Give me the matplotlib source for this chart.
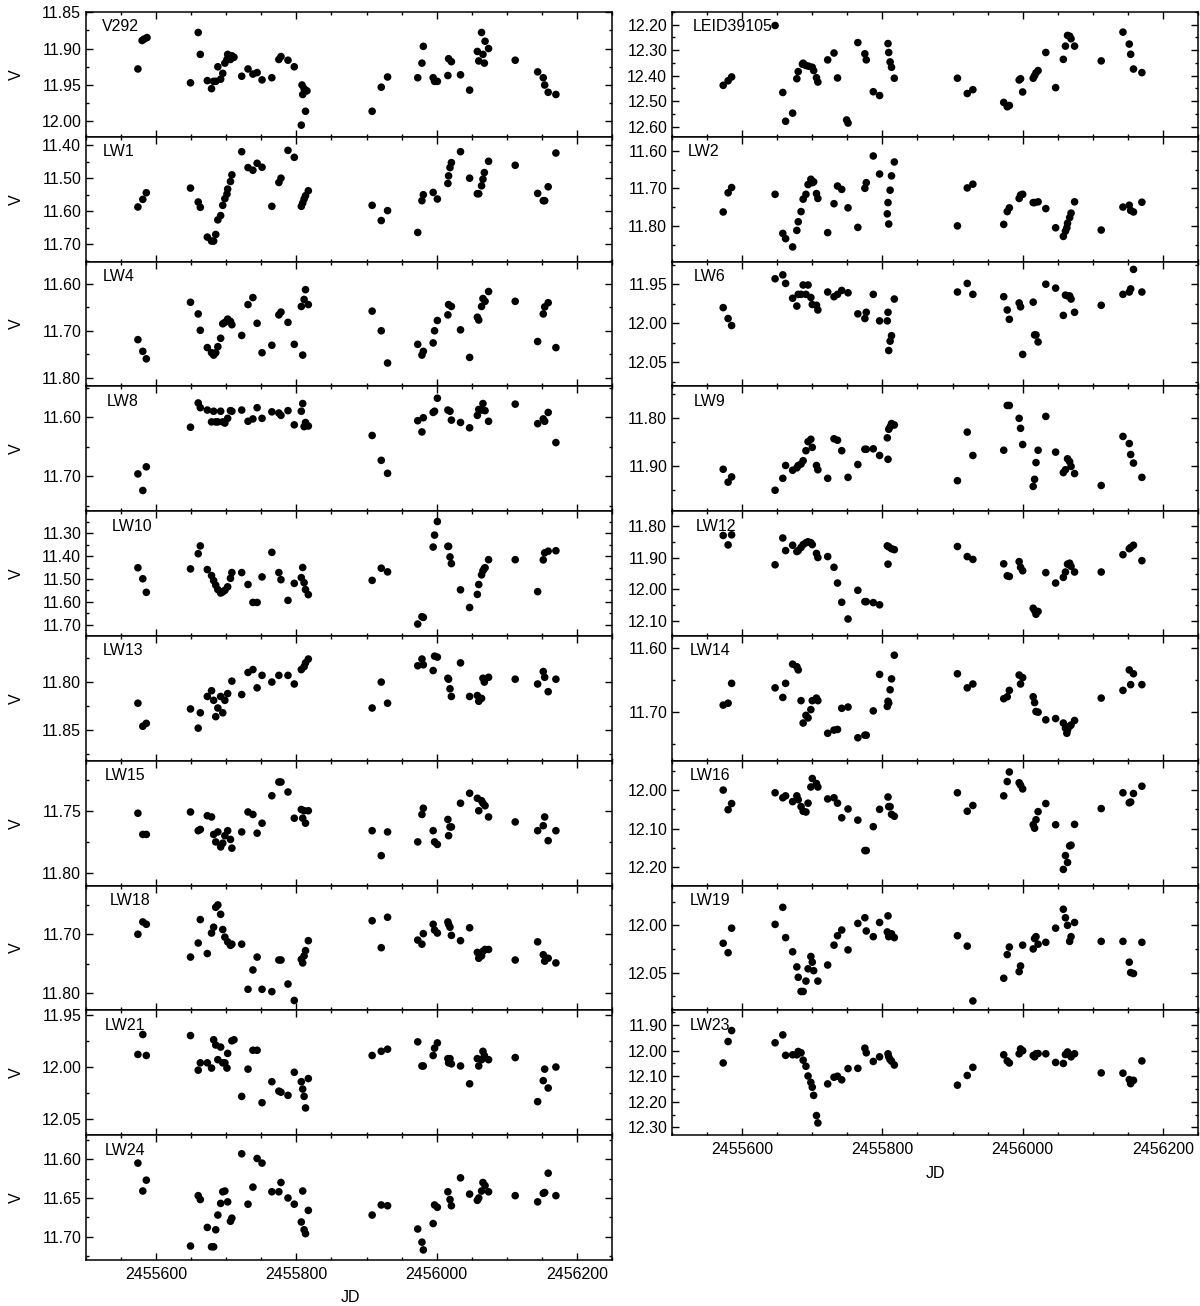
import numpy as np
import matplotlib
matplotlib.use("Agg")
import matplotlib.pyplot as plt
from matplotlib.ticker import MultipleLocator, AutoMinorLocator, FormatStrFormatter

plt.rcParams['font.family'] = ['Liberation Sans', 'DejaVu Sans']

# (JD, V)
v292 = [(2455574, 11.928), (2455580, 11.889), (2455583, 11.887), (2455587, 11.885),
        (2455649, 11.947), (2455660, 11.878), (2455663, 11.908), (2455673, 11.944),
        (2455679, 11.955), (2455682, 11.945), (2455685, 11.945), (2455688, 11.925),
        (2455692, 11.942), (2455695, 11.934), (2455698, 11.920), (2455701, 11.915),
        (2455702, 11.908), (2455706, 11.915), (2455708, 11.910), (2455711, 11.912),
        (2455722, 11.938), (2455731, 11.928), (2455738, 11.935), (2455744, 11.933),
        (2455751, 11.943), (2455765, 11.940), (2455775, 11.915), (2455778, 11.911),
        (2455788, 11.916), (2455797, 11.925), (2455807, 12.005), (2455808, 11.950),
        (2455809, 11.963), (2455811, 11.955), (2455813, 11.986), (2455815, 11.958),
        (2455908, 11.986), (2455921, 11.953), (2455930, 11.939), (2455973, 11.940),
        (2455979, 11.920), (2455981, 11.897), (2455995, 11.940), (2455997, 11.945),
        (2456001, 11.945), (2456016, 11.937), (2456017, 11.914), (2456021, 11.918),
        (2456034, 11.936), (2456047, 11.957), (2456058, 11.904), (2456060, 11.917),
        (2456064, 11.878), (2456066, 11.908), (2456068, 11.920), (2456069, 11.890),
        (2456074, 11.900), (2456112, 11.916), (2456144, 11.932), (2456152, 11.940),
        (2456154, 11.950), (2456159, 11.960), (2456170, 11.963)]

lw1 = [(2455574, 11.587), (2455581, 11.564), (2455586, 11.544), (2455649, 11.530),
       (2455660, 11.572), (2455663, 11.588), (2455673, 11.678), (2455679, 11.690),
       (2455682, 11.690), (2455685, 11.670), (2455688, 11.626), (2455692, 11.613),
       (2455695, 11.582), (2455698, 11.562), (2455701, 11.548), (2455702, 11.533),
       (2455706, 11.510), (2455708, 11.490), (2455722, 11.420), (2455731, 11.468),
       (2455738, 11.476), (2455744, 11.455), (2455751, 11.467), (2455765, 11.585),
       (2455775, 11.513), (2455778, 11.500), (2455788, 11.416), (2455797, 11.437),
       (2455807, 11.585), (2455809, 11.575), (2455811, 11.563), (2455813, 11.553),
       (2455817, 11.538), (2455908, 11.582), (2455921, 11.628), (2455930, 11.598),
       (2455973, 11.664), (2455979, 11.568), (2455981, 11.550), (2455995, 11.543),
       (2456001, 11.563), (2456016, 11.516), (2456017, 11.493), (2456019, 11.468),
       (2456021, 11.453), (2456034, 11.420), (2456047, 11.500), (2456058, 11.547),
       (2456060, 11.547), (2456064, 11.523), (2456066, 11.503), (2456068, 11.483),
       (2456074, 11.449), (2456112, 11.461), (2456144, 11.546), (2456152, 11.568),
       (2456154, 11.568), (2456159, 11.526), (2456170, 11.424)]

lw4 = [(2455574, 11.719), (2455581, 11.744), (2455586, 11.760), (2455649, 11.639),
       (2455660, 11.664), (2455663, 11.699), (2455673, 11.736), (2455679, 11.747),
       (2455682, 11.752), (2455685, 11.747), (2455688, 11.734), (2455692, 11.716),
       (2455695, 11.685), (2455698, 11.682), (2455702, 11.675), (2455706, 11.680),
       (2455708, 11.687), (2455722, 11.710), (2455731, 11.644), (2455738, 11.629),
       (2455744, 11.684), (2455751, 11.747), (2455765, 11.731), (2455775, 11.666),
       (2455778, 11.660), (2455788, 11.682), (2455797, 11.729), (2455807, 11.648),
       (2455809, 11.752), (2455811, 11.633), (2455813, 11.612), (2455817, 11.644),
       (2455908, 11.658), (2455921, 11.700), (2455930, 11.769), (2455973, 11.729),
       (2455979, 11.752), (2455981, 11.744), (2455995, 11.726), (2455997, 11.700),
       (2456001, 11.678), (2456016, 11.666), (2456017, 11.644), (2456021, 11.648),
       (2456034, 11.698), (2456047, 11.757), (2456058, 11.671), (2456060, 11.677),
       (2456064, 11.648), (2456066, 11.631), (2456069, 11.637), (2456074, 11.616),
       (2456112, 11.637), (2456144, 11.723), (2456152, 11.664), (2456154, 11.649),
       (2456159, 11.640), (2456170, 11.736)]

lw8 = [(2455574, 11.696), (2455581, 11.724), (2455586, 11.684), (2455649, 11.617),
       (2455660, 11.576), (2455663, 11.584), (2455673, 11.588), (2455679, 11.608),
       (2455682, 11.590), (2455685, 11.608), (2455688, 11.608), (2455692, 11.590),
       (2455695, 11.608), (2455698, 11.610), (2455702, 11.602), (2455706, 11.589),
       (2455708, 11.590), (2455722, 11.588), (2455731, 11.607), (2455738, 11.603),
       (2455744, 11.584), (2455751, 11.602), (2455765, 11.591), (2455775, 11.593),
       (2455778, 11.597), (2455788, 11.589), (2455797, 11.613), (2455807, 11.590),
       (2455809, 11.577), (2455811, 11.616), (2455813, 11.609), (2455817, 11.615),
       (2455908, 11.631), (2455921, 11.673), (2455930, 11.695), (2455973, 11.606),
       (2455979, 11.625), (2455981, 11.601), (2455995, 11.592), (2455997, 11.590),
       (2456001, 11.568), (2456016, 11.588), (2456019, 11.590), (2456021, 11.605),
       (2456034, 11.609), (2456047, 11.618), (2456058, 11.597), (2456060, 11.587),
       (2456064, 11.588), (2456066, 11.577), (2456069, 11.589), (2456074, 11.607),
       (2456112, 11.578), (2456144, 11.611), (2456152, 11.603), (2456154, 11.607),
       (2456159, 11.592), (2456170, 11.643)]

lw10 = [(2455574, 11.451), (2455581, 11.499), (2455586, 11.558), (2455649, 11.456),
        (2455660, 11.390), (2455663, 11.356), (2455673, 11.459), (2455679, 11.485),
        (2455682, 11.507), (2455685, 11.527), (2455688, 11.546), (2455692, 11.561),
        (2455695, 11.556), (2455698, 11.549), (2455702, 11.534), (2455706, 11.497),
        (2455708, 11.472), (2455722, 11.472), (2455731, 11.524), (2455738, 11.602),
        (2455744, 11.602), (2455751, 11.491), (2455765, 11.384), (2455775, 11.472),
        (2455778, 11.503), (2455788, 11.593), (2455797, 11.519), (2455807, 11.494),
        (2455809, 11.450), (2455811, 11.516), (2455813, 11.546), (2455817, 11.568),
        (2455908, 11.506), (2455921, 11.453), (2455930, 11.469), (2455973, 11.696),
        (2455979, 11.664), (2455981, 11.667), (2455995, 11.361), (2455997, 11.309),
        (2456001, 11.250), (2456016, 11.358), (2456017, 11.358), (2456019, 11.404),
        (2456021, 11.433), (2456034, 11.547), (2456047, 11.624), (2456058, 11.567),
        (2456060, 11.524), (2456064, 11.482), (2456066, 11.464), (2456068, 11.454),
        (2456069, 11.451), (2456074, 11.416), (2456112, 11.416), (2456144, 11.555),
        (2456152, 11.417), (2456154, 11.386), (2456159, 11.379), (2456170, 11.377)]

lw13 = [(2455574, 11.822), (2455581, 11.846), (2455586, 11.843), (2455649, 11.828),
        (2455660, 11.848), (2455663, 11.832), (2455673, 11.815), (2455679, 11.809),
        (2455682, 11.819), (2455685, 11.836), (2455688, 11.827), (2455692, 11.815),
        (2455695, 11.832), (2455698, 11.819), (2455702, 11.812), (2455708, 11.799),
        (2455722, 11.813), (2455731, 11.790), (2455738, 11.787), (2455744, 11.806),
        (2455751, 11.793), (2455765, 11.800), (2455775, 11.793), (2455788, 11.793),
        (2455797, 11.802), (2455807, 11.787), (2455811, 11.784), (2455813, 11.780),
        (2455817, 11.776), (2455908, 11.827), (2455921, 11.800), (2455930, 11.822),
        (2455973, 11.783), (2455979, 11.776), (2455981, 11.782), (2455995, 11.788),
        (2455997, 11.773), (2456001, 11.774), (2456016, 11.796), (2456017, 11.797),
        (2456019, 11.807), (2456021, 11.815), (2456034, 11.780), (2456047, 11.815),
        (2456058, 11.814), (2456060, 11.820), (2456064, 11.817), (2456066, 11.796),
        (2456068, 11.800), (2456074, 11.795), (2456112, 11.797), (2456144, 11.802),
        (2456152, 11.789), (2456154, 11.795), (2456159, 11.810), (2456170, 11.797)]

lw15 = [(2455574, 11.752), (2455581, 11.769), (2455586, 11.769), (2455649, 11.751),
        (2455660, 11.766), (2455663, 11.765), (2455673, 11.754), (2455679, 11.755),
        (2455682, 11.769), (2455685, 11.775), (2455688, 11.767), (2455692, 11.779),
        (2455695, 11.776), (2455698, 11.770), (2455702, 11.766), (2455706, 11.773),
        (2455708, 11.780), (2455722, 11.767), (2455731, 11.751), (2455738, 11.753),
        (2455744, 11.768), (2455751, 11.760), (2455765, 11.738), (2455775, 11.727),
        (2455778, 11.727), (2455788, 11.735), (2455797, 11.756), (2455807, 11.749),
        (2455809, 11.756), (2455811, 11.750), (2455813, 11.760), (2455817, 11.750),
        (2455908, 11.766), (2455921, 11.786), (2455930, 11.767), (2455973, 11.775),
        (2455979, 11.753), (2455981, 11.748), (2455995, 11.766), (2455997, 11.775),
        (2456001, 11.777), (2456016, 11.757), (2456017, 11.770), (2456019, 11.763),
        (2456021, 11.763), (2456034, 11.744), (2456047, 11.736), (2456058, 11.740),
        (2456060, 11.750), (2456064, 11.742), (2456066, 11.744), (2456069, 11.746),
        (2456074, 11.755), (2456112, 11.759), (2456144, 11.766), (2456152, 11.762),
        (2456154, 11.755), (2456159, 11.774), (2456170, 11.766)]

lw18 = [(2455574, 11.700), (2455581, 11.679), (2455586, 11.683), (2455649, 11.739),
        (2455660, 11.715), (2455663, 11.675), (2455673, 11.733), (2455679, 11.698),
        (2455682, 11.688), (2455685, 11.654), (2455688, 11.650), (2455692, 11.666),
        (2455695, 11.692), (2455698, 11.705), (2455702, 11.713), (2455706, 11.719),
        (2455708, 11.717), (2455722, 11.717), (2455731, 11.794), (2455738, 11.761),
        (2455744, 11.739), (2455751, 11.794), (2455765, 11.798), (2455775, 11.744),
        (2455778, 11.744), (2455788, 11.785), (2455797, 11.813), (2455807, 11.743),
        (2455809, 11.749), (2455811, 11.737), (2455813, 11.728), (2455817, 11.711),
        (2455908, 11.677), (2455921, 11.723), (2455930, 11.671), (2455973, 11.710),
        (2455979, 11.717), (2455981, 11.699), (2455995, 11.683), (2455997, 11.693),
        (2456001, 11.698), (2456016, 11.679), (2456017, 11.683), (2456019, 11.688),
        (2456021, 11.702), (2456034, 11.711), (2456047, 11.689), (2456058, 11.731),
        (2456060, 11.741), (2456064, 11.737), (2456066, 11.729), (2456069, 11.726),
        (2456074, 11.726), (2456112, 11.744), (2456144, 11.713), (2456152, 11.735),
        (2456154, 11.746), (2456159, 11.741), (2456170, 11.749)]

lw21 = [(2455574, 11.988), (2455581, 11.969), (2455586, 11.989), (2455649, 11.970),
        (2455660, 12.003), (2455663, 11.996), (2455673, 11.996), (2455679, 12.001),
        (2455682, 11.974), (2455685, 11.979), (2455688, 11.993), (2455692, 11.981),
        (2455695, 11.996), (2455698, 11.996), (2455701, 12.001), (2455702, 11.987),
        (2455708, 11.975), (2455711, 11.974), (2455722, 12.028), (2455731, 12.002),
        (2455738, 11.984), (2455744, 11.984), (2455751, 12.034), (2455765, 12.014),
        (2455775, 12.023), (2455778, 12.024), (2455788, 12.027), (2455797, 12.005),
        (2455807, 12.014), (2455809, 12.021), (2455811, 12.028), (2455813, 12.039),
        (2455817, 12.011), (2455908, 11.989), (2455921, 11.985), (2455930, 11.983),
        (2455973, 11.976), (2455979, 11.999), (2455981, 11.999), (2455995, 11.989),
        (2455997, 11.982), (2456001, 11.977), (2456016, 11.992), (2456017, 11.996),
        (2456019, 11.992), (2456021, 11.997), (2456034, 11.999), (2456047, 12.016),
        (2456058, 11.992), (2456060, 11.999), (2456064, 11.993), (2456066, 11.985),
        (2456068, 11.989), (2456074, 11.993), (2456112, 11.991), (2456144, 12.033),
        (2456152, 12.013), (2456154, 12.002), (2456159, 12.020), (2456170, 12.000)]

lw24 = [(2455574, 11.605), (2455581, 11.641), (2455586, 11.627), (2455649, 11.712),
        (2455660, 11.647), (2455663, 11.652), (2455673, 11.688), (2455679, 11.713),
        (2455682, 11.713), (2455685, 11.691), (2455688, 11.672), (2455692, 11.657),
        (2455695, 11.642), (2455698, 11.641), (2455702, 11.655), (2455706, 11.680),
        (2455708, 11.676), (2455722, 11.593), (2455731, 11.658), (2455738, 11.636),
        (2455744, 11.599), (2455751, 11.605), (2455765, 11.642), (2455775, 11.642),
        (2455778, 11.630), (2455788, 11.650), (2455797, 11.658), (2455807, 11.681),
        (2455809, 11.641), (2455811, 11.691), (2455813, 11.696), (2455817, 11.666),
        (2455908, 11.672), (2455921, 11.659), (2455930, 11.660), (2455973, 11.690),
        (2455979, 11.707), (2455981, 11.717), (2455995, 11.683), (2455997, 11.659),
        (2456001, 11.662), (2456016, 11.642), (2456019, 11.652), (2456021, 11.660),
        (2456034, 11.624), (2456047, 11.645), (2456058, 11.653), (2456060, 11.650),
        (2456064, 11.641), (2456066, 11.630), (2456069, 11.634), (2456074, 11.642),
        (2456112, 11.647), (2456144, 11.655), (2456152, 11.644), (2456154, 11.643),
        (2456159, 11.618), (2456170, 11.647)]

leid39105 = [(2455573, 12.438), (2455580, 12.420), (2455585, 12.405), (2455647, 12.203),
             (2455658, 12.466), (2455662, 12.579), (2455672, 12.547), (2455678, 12.412),
             (2455680, 12.384), (2455686, 12.355), (2455687, 12.351), (2455691, 12.360),
             (2455695, 12.363), (2455700, 12.367), (2455702, 12.380), (2455706, 12.408),
             (2455708, 12.425), (2455722, 12.338), (2455731, 12.311), (2455736, 12.409),
             (2455749, 12.574), (2455751, 12.586), (2455765, 12.270), (2455775, 12.314),
             (2455777, 12.338), (2455787, 12.463), (2455796, 12.478), (2455808, 12.274),
             (2455809, 12.309), (2455811, 12.346), (2455813, 12.367), (2455817, 12.410),
             (2455907, 12.410), (2455921, 12.470), (2455929, 12.455), (2455973, 12.505),
             (2455978, 12.522), (2455981, 12.517), (2455995, 12.417), (2455997, 12.412),
             (2456000, 12.464), (2456015, 12.410), (2456017, 12.400), (2456019, 12.389),
             (2456022, 12.380), (2456033, 12.309), (2456047, 12.447), (2456058, 12.336),
             (2456061, 12.284), (2456064, 12.242), (2456067, 12.245), (2456069, 12.255),
             (2456074, 12.284), (2456112, 12.342), (2456143, 12.229), (2456152, 12.276),
             (2456154, 12.316), (2456158, 12.374), (2456170, 12.388)]

lw2 = [(2455573, 11.763), (2455580, 11.712), (2455585, 11.698), (2455647, 11.716),
       (2455658, 11.820), (2455662, 11.834), (2455672, 11.856), (2455678, 11.812),
       (2455680, 11.789), (2455684, 11.762), (2455687, 11.729), (2455691, 11.716),
       (2455694, 11.690), (2455698, 11.676), (2455700, 11.685), (2455702, 11.683),
       (2455706, 11.714), (2455708, 11.727), (2455722, 11.818), (2455731, 11.741),
       (2455736, 11.694), (2455742, 11.703), (2455751, 11.752), (2455765, 11.804),
       (2455775, 11.700), (2455777, 11.685), (2455787, 11.614), (2455796, 11.662),
       (2455807, 11.768), (2455808, 11.738), (2455809, 11.795), (2455811, 11.705),
       (2455813, 11.667), (2455817, 11.630), (2455907, 11.800), (2455921, 11.699),
       (2455929, 11.689), (2455973, 11.796), (2455978, 11.762), (2455981, 11.752),
       (2455995, 11.727), (2455997, 11.718), (2456000, 11.716), (2456015, 11.738),
       (2456017, 11.738), (2456022, 11.736), (2456033, 11.754), (2456047, 11.805),
       (2456058, 11.828), (2456061, 11.814), (2456063, 11.805), (2456064, 11.793),
       (2456067, 11.778), (2456069, 11.766), (2456074, 11.736), (2456112, 11.811),
       (2456143, 11.750), (2456152, 11.745), (2456154, 11.759), (2456158, 11.763),
       (2456170, 11.737)]

lw6 = [(2455573, 11.980), (2455580, 11.994), (2455585, 12.003), (2455647, 11.943),
       (2455658, 11.938), (2455662, 11.949), (2455672, 11.968), (2455678, 11.978),
       (2455680, 11.963), (2455684, 11.963), (2455687, 11.951), (2455691, 11.963),
       (2455694, 11.951), (2455698, 11.967), (2455700, 11.976), (2455706, 11.977),
       (2455708, 11.983), (2455722, 11.960), (2455731, 11.966), (2455736, 11.963),
       (2455742, 11.958), (2455751, 11.961), (2455765, 11.988), (2455775, 11.994),
       (2455777, 11.986), (2455787, 11.963), (2455796, 11.997), (2455807, 11.997),
       (2455808, 11.986), (2455809, 12.035), (2455811, 12.023), (2455813, 12.016),
       (2455817, 11.969), (2455907, 11.960), (2455921, 11.949), (2455929, 11.963),
       (2455973, 11.966), (2455978, 11.983), (2455981, 11.995), (2455995, 11.974),
       (2455997, 11.979), (2456000, 12.040), (2456015, 11.973), (2456017, 12.015),
       (2456019, 12.015), (2456022, 12.024), (2456033, 11.950), (2456047, 11.955),
       (2456058, 11.990), (2456061, 11.964), (2456064, 11.965), (2456067, 11.965),
       (2456069, 11.969), (2456074, 11.986), (2456112, 11.977), (2456143, 11.963),
       (2456152, 11.960), (2456154, 11.956), (2456158, 11.931), (2456170, 11.960)]

lw9 = [(2455573, 11.907), (2455580, 11.934), (2455585, 11.923), (2455647, 11.951),
       (2455658, 11.926), (2455662, 11.899), (2455672, 11.909), (2455678, 11.904),
       (2455680, 11.899), (2455684, 11.896), (2455687, 11.889), (2455691, 11.868),
       (2455694, 11.849), (2455698, 11.844), (2455700, 11.861), (2455706, 11.899),
       (2455708, 11.908), (2455722, 11.926), (2455731, 11.843), (2455736, 11.846),
       (2455742, 11.868), (2455751, 11.924), (2455765, 11.897), (2455775, 11.865),
       (2455777, 11.865), (2455787, 11.864), (2455796, 11.878), (2455807, 11.841),
       (2455808, 11.886), (2455809, 11.823), (2455811, 11.818), (2455813, 11.811),
       (2455817, 11.814), (2455907, 11.931), (2455921, 11.829), (2455929, 11.878),
       (2455973, 11.867), (2455978, 11.773), (2455981, 11.773), (2455995, 11.800),
       (2455997, 11.821), (2456000, 11.855), (2456015, 11.943), (2456017, 11.928),
       (2456019, 11.893), (2456022, 11.867), (2456033, 11.796), (2456047, 11.871),
       (2456058, 11.914), (2456061, 11.908), (2456064, 11.885), (2456067, 11.891),
       (2456069, 11.901), (2456074, 11.916), (2456112, 11.941), (2456143, 11.838),
       (2456152, 11.853), (2456154, 11.876), (2456158, 11.894), (2456170, 11.924)]

lw12 = [(2455573, 11.829), (2455580, 11.859), (2455585, 11.827), (2455647, 11.922),
        (2455658, 11.837), (2455662, 11.877), (2455672, 11.860), (2455678, 11.880),
        (2455680, 11.877), (2455684, 11.867), (2455687, 11.858), (2455691, 11.852),
        (2455694, 11.849), (2455698, 11.852), (2455700, 11.858), (2455706, 11.886),
        (2455708, 11.899), (2455722, 11.896), (2455731, 11.930), (2455736, 11.980),
        (2455742, 12.041), (2455751, 12.094), (2455765, 12.003), (2455775, 12.039),
        (2455777, 12.039), (2455787, 12.042), (2455796, 12.049), (2455807, 11.862),
        (2455808, 11.920), (2455809, 11.865), (2455813, 11.871), (2455817, 11.874),
        (2455907, 11.864), (2455921, 11.896), (2455929, 11.905), (2455973, 11.919),
        (2455978, 11.957), (2455981, 11.959), (2455995, 11.912), (2455997, 11.930),
        (2456000, 11.941), (2456015, 12.060), (2456017, 12.067), (2456019, 12.079),
        (2456022, 12.070), (2456033, 11.947), (2456047, 11.980), (2456058, 11.962),
        (2456061, 11.945), (2456064, 11.920), (2456067, 11.917), (2456069, 11.927),
        (2456074, 11.945), (2456112, 11.945), (2456143, 11.890), (2456152, 11.871),
        (2456154, 11.867), (2456158, 11.860), (2456170, 11.909)]

lw14 = [(2455573, 11.689), (2455580, 11.686), (2455585, 11.655), (2455647, 11.662),
        (2455658, 11.677), (2455662, 11.655), (2455672, 11.625), (2455678, 11.629),
        (2455680, 11.634), (2455684, 11.682), (2455687, 11.717), (2455691, 11.705),
        (2455694, 11.709), (2455698, 11.696), (2455700, 11.682), (2455706, 11.678),
        (2455708, 11.682), (2455722, 11.733), (2455731, 11.728), (2455736, 11.727),
        (2455742, 11.694), (2455751, 11.692), (2455765, 11.740), (2455775, 11.736),
        (2455777, 11.736), (2455787, 11.698), (2455796, 11.641), (2455807, 11.691),
        (2455808, 11.683), (2455809, 11.686), (2455811, 11.665), (2455813, 11.648),
        (2455817, 11.611), (2455907, 11.640), (2455921, 11.662), (2455929, 11.656),
        (2455973, 11.679), (2455978, 11.676), (2455981, 11.666), (2455995, 11.642),
        (2455997, 11.656), (2456000, 11.646), (2456015, 11.676), (2456017, 11.685),
        (2456019, 11.699), (2456022, 11.700), (2456033, 11.712), (2456047, 11.710),
        (2456058, 11.717), (2456061, 11.725), (2456063, 11.733), (2456064, 11.728),
        (2456067, 11.722), (2456069, 11.720), (2456074, 11.713), (2456112, 11.678),
        (2456143, 11.666), (2456152, 11.634), (2456154, 11.657), (2456158, 11.640),
        (2456170, 11.657)]

lw16 = [(2455573, 12.000), (2455580, 12.051), (2455585, 12.035), (2455647, 12.007),
        (2455658, 12.020), (2455662, 12.015), (2455672, 12.030), (2455678, 12.015),
        (2455680, 12.025), (2455684, 12.043), (2455687, 12.055), (2455691, 12.057),
        (2455694, 12.034), (2455698, 11.992), (2455700, 11.970), (2455706, 11.983),
        (2455708, 11.992), (2455722, 12.023), (2455731, 12.020), (2455736, 12.034),
        (2455742, 12.072), (2455751, 12.049), (2455765, 12.078), (2455775, 12.157),
        (2455777, 12.157), (2455787, 12.095), (2455796, 12.050), (2455808, 12.018),
        (2455809, 12.043), (2455811, 12.043), (2455813, 12.063), (2455817, 12.068),
        (2455907, 12.007), (2455921, 12.055), (2455929, 12.040), (2455973, 12.015),
        (2455978, 11.978), (2455981, 11.953), (2455995, 11.981), (2455997, 11.987),
        (2456000, 11.997), (2456015, 12.090), (2456017, 12.099), (2456019, 12.077),
        (2456022, 12.056), (2456033, 12.035), (2456047, 12.090), (2456058, 12.206),
        (2456061, 12.170), (2456064, 12.188), (2456067, 12.145), (2456069, 12.143),
        (2456074, 12.089), (2456112, 12.048), (2456143, 12.007), (2456152, 12.033),
        (2456154, 12.031), (2456158, 12.009), (2456170, 11.990)]

lw19 = [(2455573, 12.019), (2455580, 12.029), (2455585, 12.003), (2455647, 11.999),
        (2455658, 11.981), (2455662, 12.013), (2455672, 12.028), (2455678, 12.044),
        (2455680, 12.055), (2455684, 12.070), (2455687, 12.070), (2455691, 12.059),
        (2455694, 12.046), (2455698, 12.033), (2455700, 12.039), (2455702, 12.048),
        (2455708, 12.059), (2455722, 12.042), (2455731, 12.021), (2455736, 12.011),
        (2455742, 12.005), (2455751, 12.026), (2455765, 11.998), (2455775, 11.992),
        (2455777, 12.006), (2455787, 12.012), (2455796, 11.997), (2455807, 12.007),
        (2455808, 11.990), (2455809, 12.012), (2455813, 12.009), (2455817, 12.013),
        (2455907, 12.011), (2455921, 12.022), (2455929, 12.080), (2455973, 12.056),
        (2455978, 12.031), (2455981, 12.023), (2455995, 12.049), (2455997, 12.043),
        (2456000, 12.021), (2456015, 12.025), (2456017, 12.014), (2456019, 12.012),
        (2456022, 12.020), (2456033, 12.018), (2456047, 12.003), (2456058, 11.983),
        (2456061, 11.992), (2456064, 12.000), (2456067, 12.017), (2456069, 12.012),
        (2456074, 11.997), (2456112, 12.017), (2456143, 12.017), (2456152, 12.039),
        (2456154, 12.050), (2456158, 12.051), (2456170, 12.018)]

lw23 = [(2455573, 12.048), (2455580, 11.964), (2455585, 11.921), (2455647, 11.969),
        (2455658, 11.938), (2455662, 12.018), (2455672, 12.016), (2455678, 12.016),
        (2455680, 12.003), (2455684, 12.008), (2455687, 12.037), (2455691, 12.061),
        (2455694, 12.099), (2455698, 12.124), (2455700, 12.143), (2455702, 12.175),
        (2455706, 12.254), (2455708, 12.283), (2455722, 12.130), (2455731, 12.104),
        (2455736, 12.100), (2455742, 12.114), (2455751, 12.070), (2455765, 12.069),
        (2455775, 11.990), (2455777, 12.008), (2455787, 12.042), (2455796, 12.024),
        (2455808, 12.012), (2455809, 12.024), (2455811, 12.035), (2455813, 12.041),
        (2455817, 12.056), (2455907, 12.135), (2455921, 12.097), (2455929, 12.065),
        (2455973, 12.016), (2455978, 12.040), (2455981, 12.048), (2455995, 12.012),
        (2455997, 11.993), (2456000, 12.000), (2456015, 12.019), (2456017, 12.024),
        (2456019, 12.012), (2456022, 12.011), (2456033, 12.012), (2456047, 12.046),
        (2456058, 12.050), (2456061, 12.015), (2456064, 12.005), (2456067, 12.015),
        (2456069, 12.024), (2456074, 12.012), (2456112, 12.087), (2456143, 12.088),
        (2456152, 12.113), (2456154, 12.129), (2456158, 12.116), (2456170, 12.040)]

# name, data, (faint, bright) limits, major step, label x
left_panels = [
    ("V292", v292, (12.021, 11.8499), 0.05, 0.030),
    ("LW1", lw1, (11.752, 11.375), 0.1, 0.032),
    ("LW4", lw4, (11.819, 11.552), 0.1, 0.032),
    ("LW8", lw8, (11.759, 11.548), 0.1, 0.040),
    ("LW10", lw10, (11.748, 11.205), 0.1, 0.049),
    ("LW13", lw13, (11.882, 11.752), 0.05, 0.032),
    ("LW15", lw15, (11.81, 11.71), 0.05, 0.036),
    ("LW18", lw18, (11.83, 11.617), 0.1, 0.046),
    ("LW21", lw21, (12.065, 11.946), 0.05, 0.036),
    ("LW24", lw24, (11.73, 11.569), 0.05, 0.036),
]
right_panels = [
    ("LEID39105", leid39105, (12.64, 12.15), 0.1, 0.040),
    ("LW2", lw2, (11.895, 11.563), 0.1, 0.030),
    ("LW6", lw6, (12.081, 11.921), 0.05, 0.042),
    ("LW9", lw9, (11.995, 11.733), 0.1, 0.042),
    ("LW12", lw12, (12.148, 11.752), 0.1, 0.045),
    ("LW14", lw14, (11.776, 11.581), 0.1, 0.034),
    ("LW16", lw16, (12.248, 11.924), 0.1, 0.034),
    ("LW19", lw19, (12.09, 11.958), 0.05, 0.034),
    ("LW23", lw23, (12.331, 11.842), 0.1, 0.034),
]

W, H = 1200, 1306
fig = plt.figure(figsize=(W / 100, H / 100), dpi=100)
top_px, panel_px, width_px = 12, 124.8, 526


def draw_panel(x_px, i, name, data, ylim, step, lab_x, bottom, ylabel):
    ax = fig.add_axes([x_px / W, 1 - (top_px + panel_px * (i + 1)) / H,
                       width_px / W, panel_px / H])
    jd, mag = np.array(data).T
    ax.scatter(jd, mag, s=30, c='black', edgecolors='none', zorder=3)
    ax.set_xlim(2455500, 2456250)
    ax.set_ylim(*ylim)
    ax.xaxis.set_major_locator(MultipleLocator(200))
    ax.xaxis.set_minor_locator(MultipleLocator(50))
    ax.xaxis.set_major_formatter(FormatStrFormatter('%d'))
    ax.yaxis.set_major_locator(MultipleLocator(step))
    ax.yaxis.set_minor_locator(AutoMinorLocator(2))
    ax.yaxis.set_major_formatter(FormatStrFormatter('%.2f'))
    ax.tick_params(which='both', direction='in', top=True, right=True,
                   labelsize=11.5, width=1)
    ax.tick_params(which='major', length=5)
    ax.tick_params(which='minor', length=2.5)
    ax.tick_params(axis='x', labelbottom=bottom, pad=5)
    for sp in ax.spines.values():
        sp.set_linewidth(1.1)
    ax.text(lab_x, 0.88, name, transform=ax.transAxes, va='center',
            ha='left', fontsize=11.5)
    if ylabel:
        ax.set_ylabel('V', fontsize=11.5)
        ax.yaxis.set_label_coords(-0.118, 0.5)
    return ax


for i, (name, data, ylim, step, lx) in enumerate(left_panels):
    draw_panel(86, i, name, data, ylim, step, lx, i == len(left_panels) - 1, True)

for i, (name, data, ylim, step, lx) in enumerate(right_panels):
    draw_panel(672, i, name, data, ylim, step, lx, i == len(right_panels) - 1, False)

fig.text(350 / W, 1 - 1298 / H, 'JD', ha='center', va='center', fontsize=11.5)
fig.text(935 / W, 1 - 1173 / H, 'JD', ha='center', va='center', fontsize=11.5)

fig.savefig('out.png', dpi=100)
